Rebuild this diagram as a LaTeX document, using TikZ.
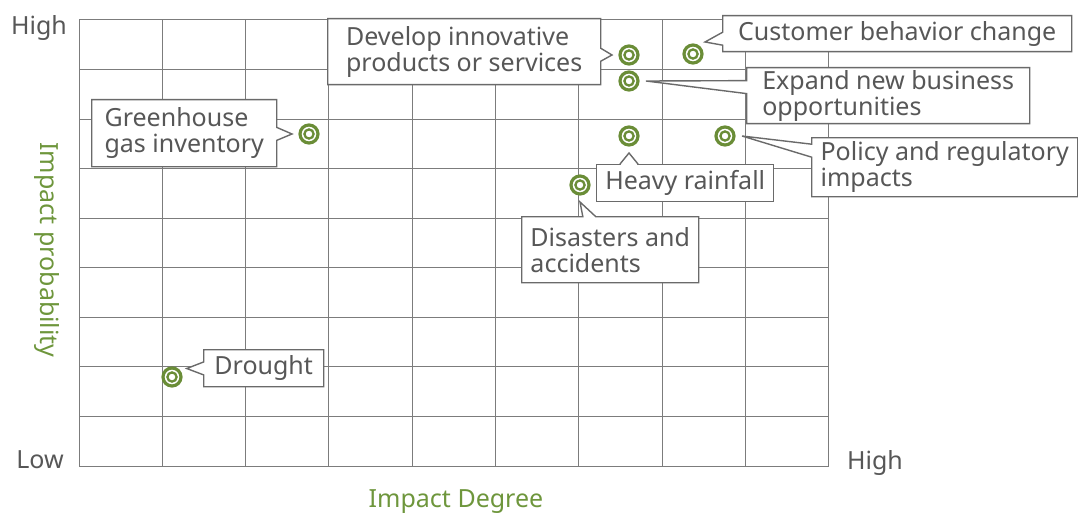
\documentclass[tikz,border=0pt]{standalone}
\usepackage{fontspec}
\setmainfont{Noto Sans}
\usetikzlibrary{shapes.callouts,calc}
\definecolor{riskgreen}{HTML}{6A8D37}
\definecolor{labelgreen}{HTML}{6E963C}
\definecolor{textgray}{HTML}{575757}
\definecolor{gridgray}{HTML}{7C7C7C}
\definecolor{boxgray}{HTML}{6A6A6A}
\tikzset{
  gridline/.style={draw=gridgray, line width=1pt},
  marker/.style={circle, draw=riskgreen, line width=3.2pt, fill=white, minimum size=18pt,
    inner sep=0pt, outer sep=8pt,
    path picture={\draw[riskgreen, line width=2.3pt] (path picture bounding box.center) circle (4.6pt);}},
  boxline/.style={draw=boxgray, line width=1.4pt, fill=white},
  callbox/.style={rectangle callout, boxline, text=textgray,
    align=left, inner sep=0pt, anchor=north west, callout pointer width=13pt,
    font=\fontsize{25}{26}\selectfont},
  axistext/.style={text=textgray, font=\fontsize{25}{26}\selectfont},
  axistitle/.style={text=labelgreen, font=\fontsize{25}{26}\selectfont},
}
\begin{document}
\begin{tikzpicture}[x=1pt, y=-1pt]
    \useasboundingbox (0,0) rectangle (1078,516);
    % grid
    \foreach \i in {0,...,9}
        \draw[gridline] ({79+\i*83.33},20) -- ({79+\i*83.33},466);
    \foreach \j in {0,...,9}
        \draw[gridline] (79,{20+\j*49.56}) -- (829,{20+\j*49.56});
    % axes
    \node[axistext] (yhigh) at (39,28) {High};
    \node[axistext] (ylow) at (40,460) {Low};
    \node[axistext] (xhigh) at (875,463) {High};
    \node[axistitle] (xtitle) at (456,502) {Impact Degree};
    \node[axistitle, rotate=-90] (ytitle) at (47,250) {Impact probability};
    % risks
    \node[marker] (ghg) at (309,134) {};
    \node[marker] (innov) at (629,55) {};
    \node[marker] (cust) at (693,54) {};
    \node[marker] (expand) at (629,81) {};
    \node[marker] (rain) at (629,136) {};
    \node[marker] (policy) at (725,136) {};
    \node[marker] (disaster) at (580,185) {};
    \node[marker] (drought) at (172,377) {};
    % callouts
    \node[callbox, minimum width=185pt, minimum height=67pt,
        callout absolute pointer={(ghg.west)}] (ghgbox) at (91,99) {Greenhouse\\gas inventory};
    \node[callbox, minimum width=273pt, minimum height=66pt,
        callout absolute pointer={(innov.west)}] (innovbox) at (327,18) {Develop innovative\\products or services};
    \node[callbox, minimum width=349pt, minimum height=36pt,
        callout absolute pointer={(cust.north east)}] (custbox) at (722,15) {Customer behavior change};
    \node[callbox, minimum width=283pt, minimum height=56pt,
        callout absolute pointer={(expand.east)}] (expandbox) at (746,67) {Expand new business\\opportunities};
    \node[callbox, minimum width=266pt, minimum height=59pt,
        callout absolute pointer={(policy.east)}] (policybox) at (811,137) {Policy and regulatory\\impacts};
    \node[callbox, rectangle, minimum width=177pt, minimum height=37pt] (rainbox) at (596,164) {Heavy rainfall};
    \fill[white] ($(rainbox.north -| rain)+(-8,-1.5)$) rectangle ($(rainbox.north -| rain)+(8,1.5)$);
    \draw[boxline] ($(rainbox.north -| rain)+(-9,0)$) -- (rain.south) -- ($(rainbox.north -| rain)+(9,0)$);
    \node[callbox, minimum width=177pt, minimum height=66pt,
        callout absolute pointer={(disaster.south)}] (disasterbox) at (521,216) {Disasters and\\accidents};
    \node[callbox, minimum width=120pt, minimum height=37pt,
        callout absolute pointer={(drought.30)}] (droughtbox) at (203,349) {Drought};
\end{tikzpicture}
\end{document}
